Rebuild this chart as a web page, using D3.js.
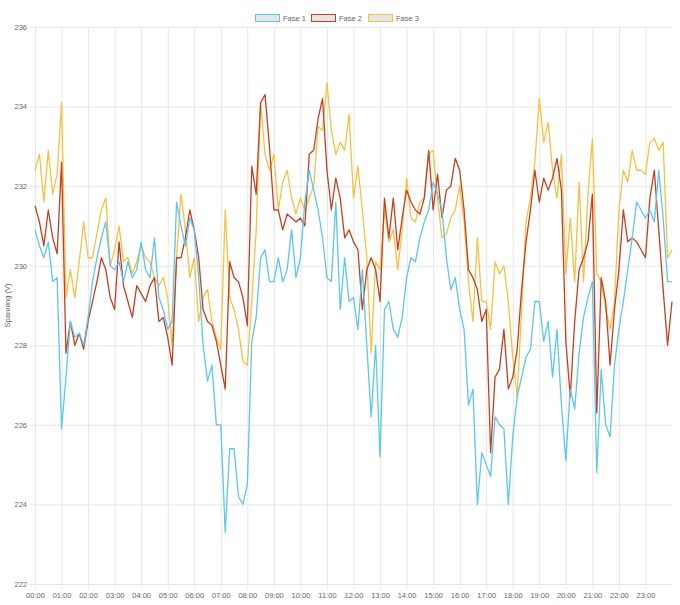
<!DOCTYPE html>
<html>
<head>
<meta charset="utf-8">
<script src="https://cdn.jsdelivr.net/npm/d3@7"></script>
<style>
  html, body { margin: 0; padding: 0; background: #fff; }
  svg { display: block; }
</style>
</head>
<body>
<svg id="chart" width="680" height="605"></svg>
<script>
// ---- data (10-minute samples, 00:00 .. 24:00) ----
const seriesNames = ["Fase 1", "Fase 2", "Fase 3"];
const seriesColors = ["#5cc6ee", "#c63f1f", "#f6c143"];
const stepMinutes = 10;
const hourLabels = ["00:00","01:00","02:00","03:00","04:00","05:00","06:00","07:00","08:00","09:00","10:00","11:00",
                    "12:00","13:00","14:00","15:00","16:00","17:00","18:00","19:00","20:00","21:00","22:00","23:00"];
const yTicks = [222, 224, 226, 228, 230, 232, 234, 236];

const fase1 = [
  230.9,230.5,230.2,230.6,229.6,229.7,225.9,227.2,228.6,228.2,228.3,228.0,228.7,229.6,230.2,230.7,231.1,230.0,229.9,230.1,229.6,230.1,229.7,229.9,230.6,
  229.9,229.7,230.7,229.2,228.9,228.4,228.6,231.6,231.0,230.5,231.2,230.9,229.7,228.0,227.1,227.5,226.0,226.0,223.3,225.4,225.4,224.2,224.0,224.5,
  228.1,228.7,230.2,230.4,229.6,229.6,230.2,229.6,229.9,230.9,229.7,230.2,231.6,232.4,231.9,231.4,230.7,229.7,229.6,231.6,228.9,230.2,229.1,229.2,
  228.4,229.9,228.0,226.2,228.0,225.2,228.9,229.1,228.4,228.2,228.7,229.7,230.2,230.1,230.7,231.1,231.4,232.1,231.8,231.4,230.2,229.4,229.7,228.9,
  228.4,226.5,226.9,224.0,225.3,225.0,224.7,226.2,226.0,225.9,224.0,225.7,226.7,227.2,227.7,227.9,229.1,229.1,228.1,228.6,227.2,228.4,226.5,225.1,
  226.9,226.4,227.8,228.7,229.2,229.6,224.8,227.4,226.0,225.7,227.5,228.4,229.1,229.9,230.7,231.6,231.4,231.2,231.4,231.1,232.4,231.2,229.6,229.6
];
const fase2 = [
  231.5,231.1,230.5,231.4,230.7,230.3,232.6,227.8,228.6,228.0,228.3,227.9,228.6,229.1,229.6,230.2,229.9,229.2,228.9,230.6,229.5,229.1,228.7,229.5,229.3,
  229.1,229.5,229.7,228.6,228.7,228.2,227.5,230.2,230.2,230.7,231.4,230.9,230.2,228.9,228.6,228.5,228.1,227.5,226.9,230.1,229.7,229.6,229.2,228.5,
  232.5,231.8,234.1,234.3,233.0,231.4,231.4,230.9,231.3,231.2,231.1,231.2,231.0,232.8,232.9,233.7,234.2,232.4,231.4,232.2,231.7,230.7,230.9,230.6,
  230.4,228.9,229.9,230.2,229.9,229.1,231.7,230.7,231.7,230.4,231.2,231.9,231.6,231.4,231.3,231.7,232.9,231.4,232.3,231.2,231.9,232.0,232.7,232.4,
  231.4,229.9,229.7,229.4,228.6,228.9,225.3,227.2,227.4,228.4,226.9,227.2,227.9,229.4,230.6,231.4,232.4,231.6,232.2,231.9,232.2,232.7,231.9,228.1,
  226.7,228.6,229.9,230.2,230.6,231.8,226.3,229.7,229.1,227.5,228.9,229.9,231.4,230.6,230.7,230.6,230.4,230.2,231.7,232.4,230.9,229.4,228.0,229.1
];
const fase3 = [
  232.4,232.8,231.6,232.9,231.8,232.3,234.1,229.2,229.9,229.2,230.1,231.1,230.2,230.2,230.8,231.4,231.7,230.0,230.4,231.0,230.1,230.2,229.8,230.1,230.5,
  230.2,230.1,229.7,229.5,229.7,229.2,228.0,230.2,231.8,230.9,229.7,230.2,228.6,229.2,229.4,228.6,228.2,227.9,231.4,229.2,228.9,228.4,227.6,227.5,
  229.1,230.9,234.1,232.8,232.4,232.8,231.4,232.1,232.4,231.7,231.3,231.7,231.4,231.7,232.0,233.5,233.4,234.6,233.4,232.8,233.1,232.9,233.8,231.7,
  232.5,231.4,230.2,227.8,230.1,229.9,231.4,230.6,230.9,229.9,230.9,232.2,231.2,231.1,231.6,231.7,232.8,232.9,231.7,230.7,230.8,231.2,231.4,232.0,
  231.1,229.6,228.6,230.7,229.1,229.1,228.4,230.1,229.8,230.0,229.1,227.7,226.7,228.9,231.1,231.7,232.6,234.2,233.1,233.6,232.4,231.7,232.8,229.8,
  231.2,229.6,232.1,229.6,231.8,233.2,229.8,229.6,228.9,228.4,229.1,231.4,232.4,232.1,232.9,232.4,232.4,232.3,233.1,233.2,232.9,233.1,230.2,230.4
];
const seriesValues = [fase1, fase2, fase3];

(function () {
  const svg = d3.select("#chart");
  const pL = 35, pR = 672, pT = 27, pB = 584;
  const font = "'Liberation Sans', Arial, Helvetica, sans-serif";
  const fontSize = "7.5px";
  const gridColor = "#e6e6e6";
  const textColor = "#666";

  const x = d3.scaleLinear().domain([0, 24 * 60]).range([pL, pR]);
  const y = d3.scaleLinear().domain([222, 236]).range([pB, pT]);

  // horizontal grid + y tick labels
  const yAxis = d3.axisLeft(y).tickValues(yTicks).tickSize(pR - pL + 5).tickPadding(3).tickFormat(d3.format("d"));
  const gy = svg.append("g").attr("transform", `translate(${pR},0)`).call(yAxis);
  gy.select(".domain").remove();
  gy.selectAll(".tick line").attr("stroke", gridColor).attr("stroke-width", 1);
  gy.selectAll(".tick text").attr("fill", textColor).style("font-family", font).style("font-size", fontSize);

  // vertical grid + x tick labels
  const hourTicks = hourLabels.map((_, i) => i * 60);
  const xAxis = d3.axisBottom(x).tickValues(hourTicks).tickSize(-(pB - pT) - 5).tickPadding(12)
    .tickFormat((d, i) => hourLabels[i]);
  const gx = svg.append("g").attr("transform", `translate(0,${pB + 5})`).call(xAxis);
  gx.select(".domain").remove();
  gx.selectAll(".tick line").attr("stroke", gridColor).attr("stroke-width", 1);
  gx.selectAll(".tick text").attr("fill", textColor).style("font-family", font).style("font-size", fontSize)
    .attr("y", 4).attr("dy", "0.71em");

  // y axis title
  svg.append("text")
    .attr("transform", `translate(10,${(pT + pB) / 2}) rotate(-90)`)
    .attr("text-anchor", "middle")
    .attr("fill", textColor)
    .style("font-family", font).style("font-size", fontSize)
    .text("Spanning (V)");

  // lines (first dataset drawn on top)
  const line = d3.line()
    .x((d, i) => x(i * stepMinutes))
    .y(d => y(d))
    .curve(d3.curveLinear);

  const order = [2, 1, 0];
  svg.append("g").selectAll("path")
    .data(order)
    .join("path")
    .attr("d", k => line(seriesValues[k]))
    .attr("fill", "none")
    .attr("stroke", k => seriesColors[k])
    .attr("stroke-width", 1.3)
    .attr("stroke-linejoin", "round");

  // legend
  const legendX = [255, 311, 368];
  const lg = svg.append("g");
  seriesNames.forEach((name, k) => {
    lg.append("rect")
      .attr("x", legendX[k] + 0.5).attr("y", 14.5)
      .attr("width", 24).attr("height", 7)
      .attr("fill", "rgba(0,0,0,0.1)")
      .attr("stroke", seriesColors[k]).attr("stroke-width", 1);
    lg.append("text")
      .attr("x", legendX[k] + 28).attr("y", 20.5)
      .attr("fill", textColor)
      .style("font-family", font).style("font-size", fontSize)
      .text(name);
  });
})();
</script>
</body>
</html>
